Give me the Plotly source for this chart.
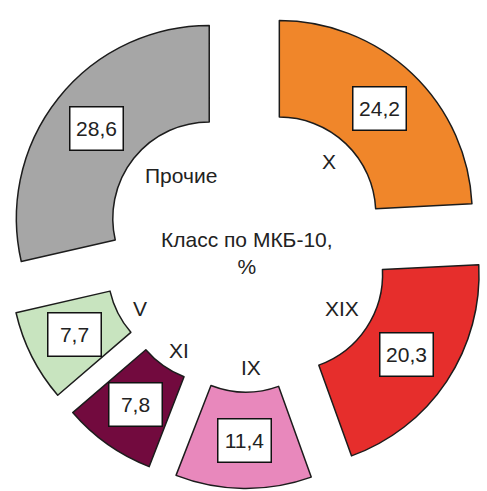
import math
import plotly.graph_objects as go

# ---- data ----
categories = ["X", "XIX", "IX", "XI", "V", "Прочие"]
values = [24.2, 20.3, 11.4, 7.8, 7.7, 28.6]
value_labels = ["24,2", "20,3", "11,4", "7,8", "7,7", "28,6"]
center_title = "Класс по МКБ-10,<br>%"

# ---- style ----
colors = ["#F0862A", "#E62E2C", "#E888BC", "#720A3E", "#C8E4BF", "#A6A6A6"]
FONT = "Arial, Liberation Sans, sans-serif"
W, H = 487, 491
ML, MR, MT, MB = 6, 0, 5, 0
PULL = 0.247
HOLE = 0.5
LABEL_R = 0.62
label_shift = {"Прочие": (28, 2), "XIX": (-4, -6), "IX": (6, 0),
               "XI": (2, 5), "V": (0, 7)}

fig = go.Figure(go.Pie(
    labels=categories,
    values=values,
    marker=dict(colors=colors, line=dict(color="#1c1c1c", width=1.5)),
    hole=HOLE,
    pull=PULL,
    sort=False,
    direction="clockwise",
    rotation=0,
    textinfo="none",
    hoverinfo="label+value",
    showlegend=False,
))

# geometry of the pie as plotly computes it
gw, gh = W - ML - MR, H - MT - MB
R = min(gw, gh) / (2 + 2 * PULL)
cx = ML + gw / 2
cy = MT + gh / 2


def to_paper(px, py):
    return (px - ML) / gw, 1 - (py - MT) / gh


total = sum(values)
annotations = []
start = 0.0
for cat, v, vl in zip(categories, values, value_labels):
    span = v / total * 360
    mid = math.radians(start + span / 2)
    start += span
    ux, uy = math.sin(mid), -math.cos(mid)
    # value box in the middle of the pulled slice
    rr = PULL * R + (HOLE + 1) / 2 * R
    x, y = to_paper(cx + ux * rr, cy + uy * rr)
    annotations.append(dict(
        x=x, y=y, xref="paper", yref="paper", text=vl, showarrow=False,
        font=dict(family=FONT, size=21, color="#222"),
        bgcolor="white", bordercolor="#111", borderwidth=1.5,
        width=46, height=36, borderpad=3, xanchor="center", yanchor="middle",
    ))
    # category label in the hole
    sx, sy = label_shift.get(cat, (0, 0))
    x, y = to_paper(cx + ux * LABEL_R * R + sx, cy + uy * LABEL_R * R + sy)
    annotations.append(dict(
        x=x, y=y, xref="paper", yref="paper", text=cat, showarrow=False,
        font=dict(family=FONT, size=21, color="#222"),
        xanchor="center", yanchor="middle",
    ))

x, y = to_paper(cx, cy + 5)
annotations.append(dict(
    x=x, y=y, xref="paper", yref="paper", text=center_title, showarrow=False,
    font=dict(family=FONT, size=21, color="#222"),
    xanchor="center", yanchor="middle",
))

fig.update_layout(
    width=W, height=H,
    margin=dict(l=ML, r=MR, t=MT, b=MB),
    paper_bgcolor="white", plot_bgcolor="white",
    annotations=annotations,
)

fig.write_html("out.html", config={"displayModeBar": False},
               post_script="document.body.style.margin='0';")
